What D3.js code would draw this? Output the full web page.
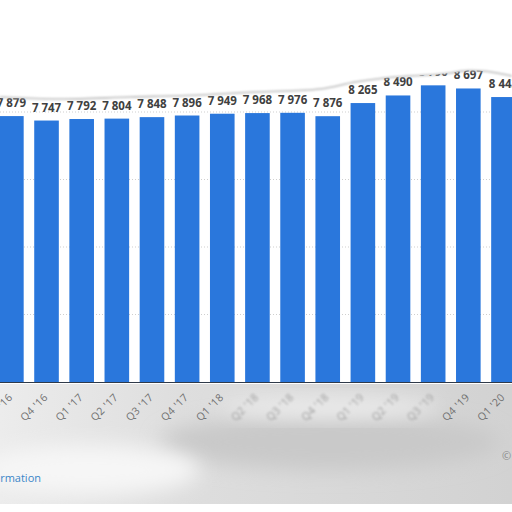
<!DOCTYPE html>
<html>
<head>
<meta charset="utf-8">
<script src="https://cdn.jsdelivr.net/npm/d3@7"></script>
<style>
  html,body{margin:0;padding:0;background:#fff;overflow:hidden}
  text{font-family:"Open Sans","Noto Sans",sans-serif}
</style>
</head>
<body>
<svg id="chart" width="512" height="512"></svg>
<script>
// --- datos ---------------------------------------------------------------
const quarters = ["Q3 '16","Q4 '16","Q1 '17","Q2 '17","Q3 '17","Q4 '17","Q1 '18",
                  "Q2 '18","Q3 '18","Q4 '18","Q1 '19","Q2 '19","Q3 '19","Q4 '19","Q1 '20"];
const values   = [7879,7747,7792,7804,7848,7896,7949,7968,7976,7876,8265,8490,8790,8697,8443];
const gridTicks = [2000,4000,6000,8000];
const blurred   = ["Q2 '18","Q3 '18","Q4 '18","Q1 '19","Q2 '19","Q3 '19"];

// --- layout --------------------------------------------------------------
const W = 512, H = 512;
const BASE = 382;              // línea base del eje
const BLUE = '#2a77dc';

const svg = d3.select('#chart');
const defs = svg.append('defs');

const x = d3.scaleBand()
  .domain(quarters)
  .range([-6.2, -6.2 + 35.15 * quarters.length])
  .paddingInner(0.3).paddingOuter(0.15);

const y = d3.scaleLinear().domain([0, 10000]).range([BASE, 44.5]);

const fmt = d3.formatLocale({decimal:',', thousands:' ', grouping:[3], currency:['','']}).format(',d');

// --- fondo gris borroso (zona inferior) ----------------------------------
const blur = defs.append('filter').attr('id','soft')
  .attr('x','-20%').attr('y','-50%').attr('width','140%').attr('height','200%');
blur.append('feGaussianBlur').attr('stdDeviation', 10);

const txtBlur = defs.append('filter').attr('id','txtBlur');
txtBlur.append('feGaussianBlur').attr('stdDeviation', 1.3);

const bgGrad = defs.append('linearGradient').attr('id','bgGrad')
  .attr('x1','0%').attr('x2','100%');
bgGrad.append('stop').attr('offset','0%').attr('stop-color','#ececec');
bgGrad.append('stop').attr('offset','35%').attr('stop-color','#dedede');
bgGrad.append('stop').attr('offset','100%').attr('stop-color','#d2d2d2');

const bottom = svg.append('g');
bottom.append('rect')
  .attr('x',0).attr('y',BASE+2).attr('width',W).attr('height',120)
  .attr('fill','url(#bgGrad)');
bottom.append('ellipse')
  .attr('cx',330).attr('cy',442).attr('rx',170).attr('ry',28)
  .attr('fill','#c9c9c9').attr('filter','url(#soft)');
bottom.append('ellipse')
  .attr('cx',330).attr('cy',408).attr('rx',110).attr('ry',10)
  .attr('fill','#eeeeee').attr('filter','url(#soft)');
bottom.append('ellipse')
  .attr('cx',90).attr('cy',470).attr('rx',110).attr('ry',25)
  .attr('fill','#f6f6f6').attr('filter','url(#soft)');
bottom.append('rect')
  .attr('x',0).attr('y',BASE+122).attr('width',W).attr('height',H-BASE-122)
  .attr('fill','#fff');
bottom.append('line')
  .attr('x1',0).attr('x2',W).attr('y1',BASE+122).attr('y2',BASE+122)
  .attr('stroke','#a8a8a8').attr('stroke-width',2).attr('filter','url(#txtBlur)');

// --- rejilla ------------------------------------------------------------
svg.append('g')
  .selectAll('line').data(gridTicks).join('line')
    .attr('x1',0).attr('x2',W)
    .attr('y1',d=>y(d)).attr('y2',d=>y(d))
    .attr('stroke','#cfcfcf').attr('stroke-width',1)
    .attr('stroke-dasharray','1,2');

// --- barras -------------------------------------------------------------
svg.append('g')
  .selectAll('rect').data(quarters).join('rect')
    .attr('x',d=>x(d))
    .attr('y',(d,i)=>y(values[i]))
    .attr('width',x.bandwidth())
    .attr('height',(d,i)=>BASE - y(values[i]))
    .attr('fill',BLUE);

// eje base
svg.append('line')
  .attr('x1',0).attr('x2',W).attr('y1',BASE+0.5).attr('y2',BASE+0.5)
  .attr('stroke','#2f3a4a').attr('stroke-width',1);

// --- etiquetas de valor --------------------------------------------------
svg.append('g')
  .selectAll('text').data(quarters).join('text')
    .attr('x',d=>x(d) + x.bandwidth()/2)
    .attr('y',(d,i)=>y(values[i]) - 9)
    .attr('text-anchor','middle')
    .attr('font-size','11.5px')
    .attr('font-weight','bold')
    .attr('fill','#404040')
    .text((d,i)=>fmt(values[i]));

// --- zona superior borrada (blanco con borde ondulado) --------------------
const edge = [[0,97],[60,99],[130,97],[200,95],[256,92],[320,89],[355,82],
              [385,78],[410,76],[430,75],[450,73],[468,70.5],[488,71.5],[502,74],[512,76]];
const edgeLine = d3.line().curve(d3.curveCatmullRom);
svg.append('path')
  .attr('d', edgeLine(edge) + `L${W},0L0,0Z`)
  .attr('fill','#fff');
svg.append('path')
  .attr('d', edgeLine(edge))
  .attr('fill','none').attr('stroke','#bdbdbd').attr('stroke-width',1.6)
  .attr('filter','url(#txtBlur)');

// --- etiquetas del eje x -------------------------------------------------
const xAxis = svg.append('g').attr('transform',`translate(0,${BASE})`)
  .call(d3.axisBottom(x).tickSize(0).tickPadding(0));
xAxis.select('.domain').remove();
xAxis.selectAll('text')
  .attr('font-size','10.5px')
  .attr('letter-spacing','0.4px')
  .attr('fill',d=>blurred.includes(d) ? '#a0a0a0' : '#707070')
  .attr('filter',d=>blurred.includes(d) ? 'url(#txtBlur)' : null)
  .attr('text-anchor','end')
  .attr('dy',null)
  .attr('transform','translate(2,16) rotate(-45)');

// --- textos de pie ------------------------------------------------------
svg.append('text')
  .attr('x',41).attr('y',482)
  .attr('text-anchor','end')
  .attr('font-size','11px')
  .attr('fill','#3a86c8')
  .text('Additional Information');
svg.append('text')
  .attr('x',502).attr('y',460)
  .attr('font-size','11px')
  .attr('fill','#8a8a8a')
  .text('© Statista 2020');
</script>
</body>
</html>
